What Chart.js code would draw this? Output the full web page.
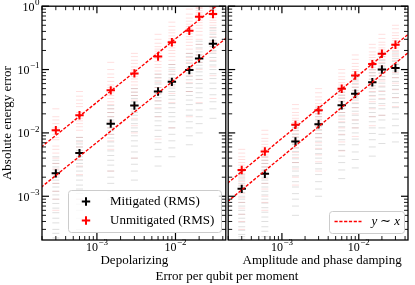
<!DOCTYPE html>
<html><head><meta charset="utf-8">
<script src="https://cdn.jsdelivr.net/npm/chart.js@4/dist/chart.umd.min.js"></script>
<style>
body{margin:0;background:#fff;width:415px;height:285px;overflow:hidden;position:relative}
#c1{position:absolute;left:0;top:0}
#c2{position:absolute;left:222px;top:0}
#xl{position:absolute;left:107px;width:240px;top:268px;text-align:center;font:13px "Liberation Serif";color:#000;line-height:16px}
</style></head><body>
<canvas id="c1" width="232" height="285"></canvas>
<canvas id="c2" width="193" height="285"></canvas>
<div id="xl">Error per qubit per moment</div>
<script>
// ---- data ----
const errorRates = [3e-4, 6e-4, 1.5e-3, 3e-3, 6e-3, 9e-3, 1.5e-2, 2e-2, 3e-2];
const xLimits = [2e-4, 4.37e-2];
const yLimits = [2.04e-4, 1];
const xTickValues = [1e-3, 1e-2];
const yTickValues = [1e-3, 1e-2, 1e-1, 1];
const panelTitles = ['Depolarizing', 'Amplitude and phase damping'];
const seriesNames = ['Mitigated (RMS)', 'Unmitigated (RMS)'];

// Depolarizing
const depolMitRMS   = [2.3e-3, 4.8e-3, 1.4e-2, 2.7e-2, 4.5e-2, 6.4e-2, 9.8e-2, 0.15, 0.255];
const depolUnmitRMS = [1.1e-2, 1.9e-2, 4.7e-2, 8.7e-2, 0.16, 0.27, 0.41, 0.68, 0.75];
const depolFitCoef  = [7.1, 30.5]; // mitigated, unmitigated  (y = c * x)
const depolUnmitSamples = [
 [0.024,0.018,0.014,0.012,0.0095,0.0078,0.0062,0.0048,0.0033,0.0021,0.0012,0.0006,0.016,0.0105,0.0085,0.0055,0.004,0.0027,0.0016,0.0009],
 [0.045,0.033,0.026,0.021,0.017,0.014,0.011,0.0085,0.006,0.0038,0.0022,0.0009,0.038,0.029,0.019,0.0155,0.0125,0.0072,0.0048,0.003],
 [0.13,0.085,0.065,0.052,0.043,0.035,0.028,0.021,0.015,0.0095,0.0055,0.0025,0.1,0.075,0.057,0.047,0.039,0.031,0.024,0.018,0.012,0.0075],
 [0.18,0.14,0.11,0.095,0.078,0.064,0.05,0.039,0.027,0.017,0.01,0.004,0.16,0.125,0.1,0.085,0.071,0.057,0.044,0.033,0.022,0.013],
 [0.36,0.26,0.21,0.18,0.15,0.12,0.095,0.073,0.052,0.032,0.018,0.008,0.3,0.23,0.195,0.165,0.135,0.108,0.084,0.062,0.042,0.025],
 [0.56,0.42,0.34,0.29,0.24,0.2,0.16,0.12,0.085,0.055,0.03,0.012,0.48,0.38,0.31,0.265,0.22,0.18,0.14,0.1,0.07,0.042],
 [0.9,0.65,0.52,0.45,0.37,0.3,0.24,0.18,0.13,0.08,0.045,0.018,0.75,0.58,0.48,0.41,0.33,0.27,0.21,0.155,0.105,0.062],
 [0.98,0.92,0.8,0.7,0.6,0.5,0.4,0.3,0.21,0.13,0.07,0.03,0.95,0.86,0.75,0.65,0.55,0.45,0.35,0.25,0.17,0.1],
 [0.99,0.95,0.85,0.76,0.66,0.55,0.44,0.33,0.23,0.14,0.08,0.035,0.97,0.9,0.8,0.71,0.6,0.5,0.38,0.28,0.19,0.11]
];
const depolMitSamples = [
 [0.0042,0.0033,0.0026,0.002,0.0016,0.0012,0.0009,0.00065,0.00045,0.0003,0.00022,0.0037,0.0029,0.0023,0.0018,0.0014,0.00105,0.00077,0.00055,0.00038,0.00026],
 [0.0085,0.0067,0.0053,0.0042,0.0033,0.0025,0.0018,0.0013,0.0009,0.0006,0.0003,0.0075,0.006,0.0047,0.0037,0.0029,0.0021,0.0015,0.0011,0.00075,0.00045],
 [0.027,0.021,0.016,0.012,0.0095,0.0072,0.0052,0.0037,0.0025,0.0016,0.0009,0.024,0.018,0.014,0.0108,0.0083,0.0062,0.0044,0.0031,0.002,0.0012],
 [0.05,0.039,0.031,0.024,0.019,0.014,0.0105,0.0075,0.005,0.0032,0.0018,0.044,0.035,0.027,0.021,0.016,0.012,0.009,0.0062,0.004,0.0025],
 [0.085,0.066,0.052,0.041,0.032,0.024,0.018,0.013,0.0088,0.0055,0.003,0.075,0.059,0.046,0.036,0.028,0.021,0.0155,0.011,0.007,0.0042],
 [0.12,0.094,0.074,0.058,0.045,0.034,0.025,0.018,0.012,0.0075,0.0042,0.107,0.083,0.066,0.051,0.039,0.029,0.021,0.015,0.0095,0.0058],
 [0.18,0.14,0.11,0.088,0.069,0.052,0.039,0.028,0.019,0.012,0.0065,0.16,0.125,0.098,0.078,0.06,0.045,0.033,0.023,0.015,0.009],
 [0.28,0.22,0.17,0.13,0.105,0.08,0.06,0.043,0.029,0.018,0.01,0.25,0.19,0.15,0.117,0.092,0.07,0.051,0.036,0.023,0.014],
 [0.46,0.36,0.29,0.23,0.18,0.135,0.1,0.072,0.05,0.031,0.017,0.41,0.32,0.26,0.2,0.155,0.118,0.086,0.061,0.04,0.024]
];

// Amplitude and phase damping
const ampMitRMS   = [1.31e-3, 2.26e-3, 7.3e-3, 1.37e-2, 2.73e-2, 4.15e-2, 6.3e-2, 0.1, 0.106];
const ampUnmitRMS = [2.6e-3, 5.1e-3, 1.34e-2, 2.28e-2, 4.97e-2, 8.05e-2, 0.122, 0.178, 0.246];
const ampFitCoef  = [4.2, 8.2];
const ampUnmitSamples = [
 [0.0055,0.0042,0.0034,0.0028,0.0023,0.0019,0.0015,0.0011,0.0008,0.00052,0.0003,0.0048,0.0038,0.0031,0.0025,0.0021,0.0017,0.0013,0.00095,0.00065,0.0004],
 [0.011,0.0082,0.0066,0.0055,0.0045,0.0037,0.0029,0.0022,0.0016,0.001,0.0006,0.0095,0.0074,0.006,0.005,0.0041,0.0033,0.0025,0.0019,0.0013,0.0008],
 [0.028,0.021,0.017,0.0145,0.012,0.0097,0.0077,0.0058,0.0041,0.0027,0.0015,0.024,0.019,0.0158,0.013,0.0108,0.0087,0.0067,0.0049,0.0034,0.002],
 [0.05,0.037,0.029,0.024,0.02,0.0165,0.013,0.0098,0.007,0.0045,0.0025,0.043,0.033,0.0265,0.022,0.018,0.0148,0.0113,0.0083,0.0057,0.0035],
 [0.1,0.077,0.062,0.053,0.044,0.036,0.028,0.021,0.015,0.0095,0.0052,0.088,0.07,0.057,0.048,0.04,0.032,0.0245,0.018,0.012,0.0072],
 [0.17,0.125,0.1,0.086,0.071,0.058,0.046,0.035,0.025,0.016,0.0088,0.145,0.112,0.093,0.078,0.064,0.052,0.04,0.03,0.02,0.012],
 [0.25,0.19,0.155,0.13,0.108,0.088,0.07,0.053,0.038,0.024,0.013,0.22,0.17,0.142,0.12,0.098,0.079,0.061,0.045,0.031,0.018],
 [0.36,0.27,0.22,0.19,0.16,0.13,0.1,0.077,0.055,0.035,0.019,0.31,0.245,0.205,0.175,0.145,0.115,0.088,0.066,0.045,0.027],
 [0.5,0.38,0.31,0.26,0.22,0.18,0.14,0.105,0.075,0.048,0.026,0.44,0.345,0.285,0.24,0.2,0.16,0.122,0.09,0.061,0.036]
];
const ampMitSamples = [
 [0.0025,0.002,0.0016,0.0013,0.001,0.0008,0.0006,0.00045,0.00033,0.00025,0.00021,0.0022,0.0018,0.00145,0.00115,0.0009,0.0007,0.00052,0.00039,0.00029,0.00023],
 [0.0042,0.0033,0.0026,0.002,0.0016,0.0012,0.0009,0.00066,0.00047,0.00033,0.00023,0.0037,0.0029,0.0023,0.0018,0.0014,0.00105,0.00078,0.00056,0.0004,0.00028],
 [0.013,0.011,0.0085,0.0066,0.0051,0.0039,0.0029,0.0021,0.0014,0.0009,0.0005,0.012,0.0095,0.0075,0.0058,0.0045,0.0034,0.0025,0.0017,0.0011,0.0007],
 [0.025,0.02,0.016,0.0125,0.0097,0.0074,0.0055,0.004,0.0027,0.0017,0.001,0.022,0.018,0.014,0.011,0.0085,0.0064,0.0047,0.0033,0.0022,0.0013],
 [0.05,0.039,0.031,0.024,0.019,0.0145,0.0108,0.0078,0.0053,0.0034,0.0019,0.044,0.035,0.027,0.021,0.0165,0.0125,0.0093,0.0065,0.0043,0.0026],
 [0.076,0.06,0.047,0.037,0.029,0.022,0.016,0.012,0.008,0.005,0.0028,0.068,0.053,0.042,0.033,0.025,0.019,0.014,0.01,0.0065,0.0038],
 [0.115,0.09,0.071,0.056,0.044,0.034,0.025,0.018,0.012,0.0078,0.0043,0.1,0.08,0.063,0.05,0.039,0.029,0.021,0.015,0.0098,0.006],
 [0.18,0.14,0.11,0.088,0.07,0.053,0.04,0.029,0.019,0.012,0.0068,0.16,0.125,0.098,0.078,0.061,0.046,0.034,0.024,0.016,0.0095],
 [0.19,0.15,0.12,0.095,0.074,0.056,0.042,0.03,0.02,0.013,0.0072,0.17,0.135,0.107,0.085,0.065,0.049,0.036,0.025,0.0165,0.01]
];

// ---- helpers ----
const FONT = '"Liberation Serif", "Times New Roman", serif';
const RED = '#ff0000';
function samplePoints(xs, cols){ const out=[]; cols.forEach((c,i)=>c.forEach(v=>out.push({x:xs[i], y:v}))); return out; }
function rmsPoints(xs, ys){ return ys.map((v,i)=>({x:xs[i], y:v})); }
function fitPoints(c){ return [{x:xLimits[0]*0.7, y:c*xLimits[0]*0.7},{x:xLimits[1]*1.4, y:c*xLimits[1]*1.4}]; }

function buildDatasets(mitS, unmitS, mitR, unmitR, coef){
  return [
    {data:samplePoints(errorRates, mitS), pointStyle:'line', pointRadius:3.5, borderWidth:1, borderColor:'rgba(0,0,0,0.13)', backgroundColor:'rgba(0,0,0,0.13)', showLine:false},
    {data:samplePoints(errorRates, unmitS), pointStyle:'line', pointRadius:3.5, borderWidth:1, borderColor:'rgba(255,0,0,0.13)', backgroundColor:'rgba(255,0,0,0.13)', showLine:false},
    {type:'line', data:fitPoints(coef[0]), borderColor:RED, borderWidth:1.4, borderDash:[3.2,1.6], pointRadius:0, fill:false},
    {type:'line', data:fitPoints(coef[1]), borderColor:RED, borderWidth:1.4, borderDash:[3.2,1.6], pointRadius:0, fill:false},
    {data:rmsPoints(errorRates, mitR), pointStyle:'cross', pointRadius:4.2, borderWidth:2, borderColor:'#000', showLine:false},
    {data:rmsPoints(errorRates, unmitR), pointStyle:'cross', pointRadius:4.2, borderWidth:2, borderColor:RED, showLine:false}
  ];
}

function supLabel(ctx, x, y, exp, align){
  const base='10', e=String(exp).replace('-','\u2212');
  ctx.font='12px '+FONT; const w1=ctx.measureText(base).width;
  ctx.font='9px '+FONT; const w2=ctx.measureText(e).width;
  const total=w1+0.5+w2;
  const x0 = align==='center' ? x-total/2 : x-total;
  ctx.textAlign='left'; ctx.textBaseline='alphabetic'; ctx.fillStyle='#000';
  ctx.font='12px '+FONT; ctx.fillText(base, x0, y);
  ctx.font='9px '+FONT; ctx.fillText(e, x0+w1+0.5, y-5.5);
}
function seg(ctx,x1,y1,x2,y2){ctx.beginPath();ctx.moveTo(x1,y1);ctx.lineTo(x2,y2);ctx.stroke();}

function decoPlugin(cfg){
  return {id:'deco', afterDraw(chart){
    const ctx=chart.ctx, a=chart.chartArea, xs=chart.scales.x, ys=chart.scales.y;
    ctx.save();
    ctx.strokeStyle='#000';
    for(let k=-4;k<=0;k++) for(let m=1;m<=9;m++){
      const v=m*Math.pow(10,k); if(v<ys.min||v>ys.max*1.0001) continue;
      const p=ys.getPixelForValue(v), L=m===1?7:4;
      ctx.lineWidth=m===1?1.2:0.9;
      seg(ctx,a.left,p,a.left+L,p); seg(ctx,a.right,p,a.right-L,p);
    }
    for(let k=-4;k<=-1;k++) for(let m=1;m<=9;m++){
      const v=m*Math.pow(10,k); if(v<xs.min||v>xs.max) continue;
      const p=xs.getPixelForValue(v), L=m===1?7:4;
      ctx.lineWidth=m===1?1.2:0.9;
      seg(ctx,p,a.bottom,p,a.bottom-L); seg(ctx,p,a.top,p,a.top+L);
    }
    ctx.lineWidth=1.3;
    ctx.strokeRect(a.left,a.top,a.right-a.left,a.bottom-a.top);
    xTickValues.forEach(v=>supLabel(ctx, xs.getPixelForValue(v), a.bottom+10.7, Math.round(Math.log10(v)), 'center'));
    if(cfg.yLabels){
      yTickValues.forEach(v=>supLabel(ctx, a.left-2.5, ys.getPixelForValue(v)+4.3, Math.round(Math.log10(v)), 'right'));
      ctx.save(); ctx.translate(8, (a.top+a.bottom)/2); ctx.rotate(-Math.PI/2);
      ctx.font='13px '+FONT; ctx.textAlign='center'; ctx.textBaseline='middle'; ctx.fillStyle='#000';
      ctx.fillText('Absolute energy error',0,0); ctx.restore();
    }
    ctx.font='13px '+FONT; ctx.textAlign='center'; ctx.textBaseline='middle'; ctx.fillStyle='#000';
    ctx.fillText(cfg.title, (a.left+a.right)/2 + cfg.titleShift, a.bottom+20.5);
    const L=cfg.legend;
    ctx.beginPath(); ctx.roundRect(L.x,L.y,L.w,L.h,3);
    ctx.fillStyle='rgba(255,255,255,0.8)'; ctx.fill();
    ctx.strokeStyle='#cccccc'; ctx.lineWidth=1; ctx.stroke();
    if(L.type==='markers'){
      [['#000',seriesNames[0]],[RED,seriesNames[1]]].forEach((it,i)=>{
        const cy=L.y+11+i*19;
        ctx.strokeStyle=it[0]; ctx.lineWidth=2;
        seg(ctx,L.x+17.5-4.2,cy,L.x+17.5+4.2,cy); seg(ctx,L.x+17.5,cy-4.2,L.x+17.5,cy+4.2);
        ctx.fillStyle='#000'; ctx.font='13px '+FONT; ctx.textAlign='left'; ctx.textBaseline='middle';
        ctx.fillText(it[1], L.x+41.5, cy+0.5);
      });
    } else {
      const cy=L.y+10;
      ctx.strokeStyle=RED; ctx.lineWidth=1.4; ctx.setLineDash([3.2,1.6]);
      seg(ctx,L.x+5,cy,L.x+32,cy); ctx.setLineDash([]);
      ctx.fillStyle='#000'; ctx.textAlign='left'; ctx.textBaseline='middle';
      let x=L.x+42;
      ctx.font='italic 13px '+FONT; ctx.fillText('y',x,cy+0.5); x+=ctx.measureText('y').width+3;
      ctx.font='13px '+FONT; ctx.fillText('∼',x,cy+0.5); x+=ctx.measureText('∼').width+3;
      ctx.font='italic 13px '+FONT; ctx.fillText('x',x,cy+0.5);
    }
    ctx.restore();
  }};
}

function makeChart(id, datasets, padding, cfg){
  return new Chart(document.getElementById(id), {
    type:'scatter',
    data:{datasets},
    options:{
      responsive:false, animation:false, events:[],
      layout:{padding},
      plugins:{legend:{display:false}, tooltip:{enabled:false}},
      scales:{
        x:{type:'logarithmic', display:false, min:xLimits[0], max:xLimits[1]},
        y:{type:'logarithmic', display:false, min:yLimits[0], max:yLimits[1]}
      }
    },
    plugins:[decoPlugin(cfg)]
  });
}

makeChart('c1', buildDatasets(depolMitSamples, depolUnmitSamples, depolMitRMS, depolUnmitRMS, depolFitCoef),
  {left:42, right:5, top:4.5, bottom:45},
  {yLabels:true, title:panelTitles[0], titleShift:0.5, legend:{type:'markers', x:68.5, y:190.5, w:153, h:42}});
makeChart('c2', buildDatasets(ampMitSamples, ampUnmitSamples, ampMitRMS, ampUnmitRMS, ampFitCoef),
  {left:5, right:7, top:4.5, bottom:45},
  {yLabels:false, title:panelTitles[1], titleShift:4, legend:{type:'line', x:107.5, y:211.5, w:75, h:22}});
</script>
</body></html>
